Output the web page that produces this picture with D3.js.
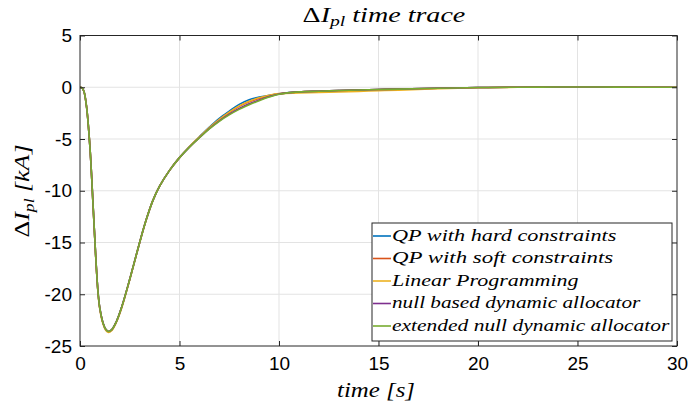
<!doctype html>
<html>
<head>
  <meta charset="utf-8">
  <script src="https://d3js.org/d3.v7.min.js"></script>
  <style>
    body { margin:0; background:#fff; }
    svg { display:block; }
    .tick text { font-family:"Liberation Sans", Arial, sans-serif; font-size:19px; fill:#000; }
    .tex { font-family:"Liberation Serif", "DejaVu Serif", serif; font-style:italic; fill:#000; }
  </style>
</head>
<body>
<svg id="chart" width="688" height="409"></svg>
<script>
// time samples [s]
const time = [0, 0.1, 0.2, 0.33, 0.5, 0.66, 0.78, 0.91, 1.0, 1.16, 1.3, 1.44, 1.6, 1.82, 2.1, 2.5, 3.0, 3.33, 3.66, 4.0, 4.5, 5.0, 5.5, 6.0, 6.5, 7.0, 7.5, 8.0, 8.5, 9.0, 9.5, 10, 11, 12, 13, 14, 15, 16, 18, 20, 22, 24, 26, 28, 30];

// ΔI_pl [kA] per allocator
const qpHard  = [0, -0.05, -0.4, -1.9, -5.8, -11.5, -16.0, -19.9, -21.4, -22.8, -23.4, -23.6, -23.42, -22.68, -21.21, -18.55, -14.97, -12.78, -10.95, -9.56, -8.03, -6.8, -5.75, -4.78, -3.85, -3.0, -2.3, -1.65, -1.2, -0.95, -0.78, -0.63, -0.45, -0.38, -0.32, -0.27, -0.22, -0.18, -0.1, -0.03, 0.0, 0.02, 0.02, 0.0, 0.0];
const qpSoft  = [0, -0.05, -0.4, -1.9, -5.8, -11.5, -16.0, -19.9, -21.4, -22.8, -23.4, -23.6, -23.42, -22.68, -21.21, -18.55, -14.97, -12.78, -10.95, -9.56, -8.03, -6.8, -5.75, -4.83, -3.95, -3.15, -2.45, -1.85, -1.4, -1.08, -0.83, -0.64, -0.45, -0.38, -0.32, -0.27, -0.22, -0.18, -0.1, -0.03, 0.0, 0.02, 0.02, 0.0, 0.0];
const linProg = [0, -0.05, -0.4, -1.9, -5.8, -11.6, -16.1, -20.0, -21.5, -22.9, -23.5, -23.7, -23.5, -22.75, -21.3, -18.6, -15.0, -12.8, -10.95, -9.56, -8.03, -6.8, -5.75, -4.8, -3.9, -3.1, -2.4, -1.8, -1.35, -1.02, -0.78, -0.62, -0.55, -0.5, -0.45, -0.4, -0.33, -0.28, -0.15, -0.05, 0.0, 0.02, 0.02, 0.0, 0.0];
const nullDyn = [0, -0.05, -0.4, -1.9, -5.8, -11.5, -16.0, -19.9, -21.4, -22.8, -23.4, -23.6, -23.42, -22.68, -21.21, -18.55, -14.97, -12.78, -10.95, -9.56, -8.03, -6.8, -5.78, -4.88, -4.0, -3.25, -2.6, -2.05, -1.6, -1.22, -0.9, -0.66, -0.45, -0.38, -0.32, -0.27, -0.22, -0.18, -0.1, -0.03, 0.0, 0.02, 0.02, 0.0, 0.0];
const extNull = [0, -0.05, -0.4, -1.9, -5.8, -11.5, -16.0, -19.9, -21.4, -22.8, -23.4, -23.6, -23.42, -22.68, -21.21, -18.55, -14.97, -12.78, -10.95, -9.56, -8.03, -6.8, -5.78, -4.88, -4.03, -3.29, -2.67, -2.14, -1.7, -1.3, -0.95, -0.68, -0.45, -0.38, -0.32, -0.27, -0.22, -0.18, -0.1, -0.03, 0.0, 0.02, 0.02, 0.0, 0.0];

const seriesNames = ["QP with hard constraints", "QP with soft constraints", "Linear Programming", "null based dynamic allocator", "extended null dynamic allocator"];
const seriesValues = [qpHard, qpSoft, linProg, nullDyn, extNull];
const colors = ["#0072BD", "#D95319", "#EDB120", "#7E2F8E", "#77AC30"];

const xTicks = [0, 5, 10, 15, 20, 25, 30];
const yTicks = [5, 0, -5, -10, -15, -20, -25];

const svg = d3.select("#chart");
const L = 80, R = 677, T = 35.5, B = 346;

const x = d3.scaleLinear().domain([0, 30]).range([L, R]);
const y = d3.scaleLinear().domain([-25, 5]).range([B, T]);

// stretch a text horizontally so it spans the wanted width (LaTeX fonts are wider)
function fitWidth(sel, w) {
  const bb = sel.node().getBBox();
  const s = w / bb.width;
  const cx = bb.x + bb.width / 2;
  sel.attr("transform", `translate(${cx},0) scale(${s},1) translate(${-cx},0)`);
}

// grid
const grid = svg.append("g").attr("stroke", "#e3e3e3").attr("stroke-width", 1);
xTicks.slice(1, -1).forEach(t => {
  grid.append("line").attr("x1", x(t)).attr("x2", x(t)).attr("y1", T).attr("y2", B);
});
yTicks.slice(1, -1).forEach(t => {
  grid.append("line").attr("x1", L).attr("x2", R).attr("y1", y(t)).attr("y2", y(t));
});

// curves
const line = d3.line().x(d => x(d[0])).y(d => y(d[1])).curve(d3.curveCatmullRom.alpha(0.5));
seriesValues.forEach((vals, i) => {
  svg.append("path")
    .datum(time.map((t, k) => [t, vals[k]]))
    .attr("fill", "none")
    .attr("stroke", colors[i])
    .attr("stroke-width", 1.6)
    .attr("d", line);
});

// axes with inward ticks
svg.append("g").attr("transform", `translate(0,${B})`)
  .call(d3.axisBottom(x).tickValues(xTicks).tickSize(-5).tickPadding(11).tickSizeOuter(0))
  .call(g => g.select(".domain").remove());
svg.append("g").attr("transform", `translate(0,${T})`)
  .call(d3.axisTop(x).tickValues(xTicks).tickSize(-5).tickFormat("").tickSizeOuter(0))
  .call(g => g.select(".domain").remove());
svg.append("g").attr("transform", `translate(${L},0)`)
  .call(d3.axisLeft(y).tickValues(yTicks).tickSize(-5).tickPadding(8).tickFormat(d3.format("d")).tickSizeOuter(0))
  .call(g => g.select(".domain").remove());
svg.append("g").attr("transform", `translate(${R},0)`)
  .call(d3.axisRight(y).tickValues(yTicks).tickSize(-5).tickFormat("").tickSizeOuter(0))
  .call(g => g.select(".domain").remove());
svg.selectAll(".tick line").attr("stroke", "#262626");
svg.selectAll(".tick text").text(function() { return d3.select(this).text().replace("−", "-"); });

svg.append("rect").attr("x", L).attr("y", T).attr("width", R - L).attr("height", B - T)
  .attr("fill", "none").attr("stroke", "#262626").attr("stroke-width", 1);

// title
const title = svg.append("text").attr("class", "tex").attr("x", 384).attr("y", 22)
  .attr("text-anchor", "middle").attr("font-size", 20);
title.append("tspan").attr("font-style", "normal").text("Δ");
title.append("tspan").text("I");
title.append("tspan").attr("font-size", 14).attr("dy", 4).text("pl");
title.append("tspan").attr("dy", -4).text(" time trace");
fitWidth(title, 163);

// x label
const xlab = svg.append("text").attr("class", "tex").attr("x", 376).attr("y", 397)
  .attr("text-anchor", "middle").attr("font-size", 21)
  .text("time [s]");
fitWidth(xlab, 78);

// y label
const ylabG = svg.append("g").attr("transform", "translate(29,191) rotate(-90)");
const ylab = ylabG.append("text").attr("class", "tex")
  .attr("text-anchor", "middle").attr("font-size", 22);
ylab.append("tspan").attr("font-style", "normal").text("Δ");
ylab.append("tspan").text("I");
ylab.append("tspan").attr("font-size", 15).attr("dy", 5).text("pl");
ylab.append("tspan").attr("dy", -5).text(" [kA]");
fitWidth(ylab, 93);

// legend
const legendW = [225, 222, 188, 249, 278];
const lg = svg.append("g").attr("transform", "translate(372,223)");
lg.append("rect").attr("width", 300).attr("height", 118)
  .attr("fill", "#fff").attr("stroke", "#262626").attr("stroke-width", 1);
seriesNames.forEach((name, i) => {
  const yy = 13 + i * 22.5;
  lg.append("line").attr("x1", 1).attr("x2", 19).attr("y1", yy).attr("y2", yy)
    .attr("stroke", colors[i]).attr("stroke-width", 1.6);
  const t = lg.append("text").attr("class", "tex").attr("x", 20).attr("y", yy + 5)
    .attr("font-size", 17).text(name);
  const bb = t.node().getBBox();
  t.attr("transform", `translate(20,0) scale(${legendW[i] / bb.width},1) translate(-20,0)`);
});
</script>
</body>
</html>
